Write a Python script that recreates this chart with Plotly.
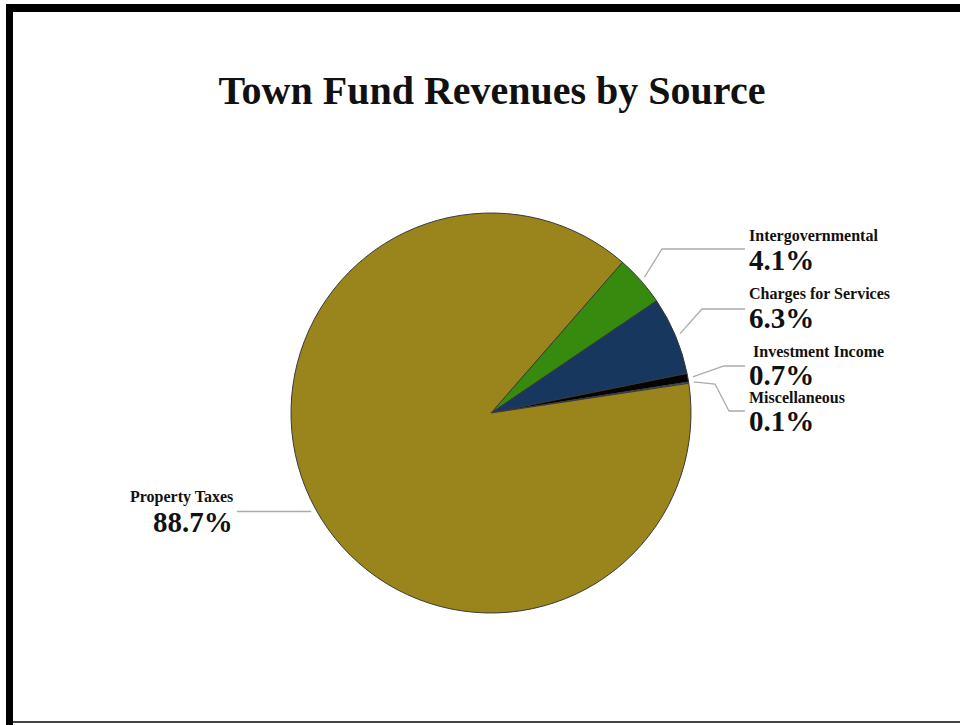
import math
import plotly.graph_objects as go

# Revenue shares (percent of total town fund revenues)
sources = ["Intergovernmental", "Charges for Services", "Investment Income",
           "Miscellaneous", "Property Taxes"]
shares = [4.1, 6.3, 0.7, 0.1, 88.7]
pct_labels = ["4.1%", "6.3%", "0.7%", "0.1%", "88.7%"]
colors = ["#368A0E", "#17375E", "#050505", "#6F8FB5", "#9A841C"]

W, H = 960, 725
CX, CY, R = 491, 413, 200
ROTATION = 41.1
FONT = "Liberation Serif"


def px(x):
    return x / W


def py(y):
    return 1 - y / H


fig = go.Figure(go.Pie(
    labels=sources,
    values=shares,
    sort=False,
    direction="clockwise",
    rotation=ROTATION,
    marker=dict(colors=colors, line=dict(color="#3a3a3a", width=1)),
    textinfo="none",
    hoverinfo="label+percent",
    showlegend=False,
    domain=dict(x=[px(CX - R), px(CX + R)], y=[py(CY + R), py(CY - R)]),
))

# label layout: (leader-line points after the slice anchor, name pos, pct pos, anchor side)
# a None y means "stay level with the slice anchor"
label_layout = {
    "Intergovernmental": ([(662, 249), (745, 249)], (747, 236), (747, 260), "left"),
    "Charges for Services": ([(702, 309), (745, 309)], (747, 294), (747, 318), "left"),
    "Investment Income": ([(724, 366), (745, 366)], (751, 351), (747, 375), "left"),
    "Miscellaneous": ([(715, 384), (729, 411), (745, 411)], (747, 397), (747, 421), "left"),
    "Property Taxes": ([(237, None)], (235, 497), (235, 522), "right"),
}

total = sum(shares)
cum = 0.0
shapes = []
annotations = []
for name, val, pct in zip(sources, shares, pct_labels):
    mid = math.radians(ROTATION + 360 * (cum + val / 2) / total)
    cum += val
    sx = CX + (R + 5) * math.sin(mid)
    sy = CY - (R + 5) * math.cos(mid)
    pts, npos, ppos, side = label_layout[name]
    path_pts = [(sx, sy)] + [(x, sy if y is None else y) for x, y in pts]
    path = "M " + " L ".join(f"{px(x):.5f},{py(y):.5f}" for x, y in path_pts)
    shapes.append(dict(type="path", xref="paper", yref="paper", path=path,
                       line=dict(color="#ABABAB", width=1.3)))
    annotations.append(dict(x=px(npos[0]), y=py(npos[1]), xref="paper", yref="paper",
                            text=name, showarrow=False, xanchor=side, yanchor="middle",
                            font=dict(family=FONT, size=16, color="#111111", weight="bold")))
    annotations.append(dict(x=px(ppos[0]), y=py(ppos[1]), xref="paper", yref="paper",
                            text=pct, showarrow=False, xanchor=side, yanchor="middle",
                            font=dict(family=FONT, size=29, color="#111111", weight="bold")))

# frame around the chart
shapes += [
    dict(type="rect", xref="paper", yref="paper", x0=px(6), x1=px(960), y0=py(12), y1=py(4),
         fillcolor="black", line=dict(width=0)),
    dict(type="rect", xref="paper", yref="paper", x0=px(6), x1=px(13), y0=py(725), y1=py(4),
         fillcolor="black", line=dict(width=0)),
    dict(type="line", xref="paper", yref="paper", x0=px(13), x1=px(960), y0=py(722), y1=py(722),
         line=dict(color="#444444", width=2)),
]

fig.update_layout(
    width=W, height=H, autosize=False,
    margin=dict(l=0, r=0, t=0, b=0),
    paper_bgcolor="white", plot_bgcolor="white",
    title=dict(text="Town Fund Revenues by Source", x=px(492), xanchor="center",
               y=py(90), yanchor="middle",
               font=dict(family=FONT, size=40, color="#111111", weight="bold")),
    shapes=shapes,
    annotations=annotations,
)

fig.write_html("out.html")
